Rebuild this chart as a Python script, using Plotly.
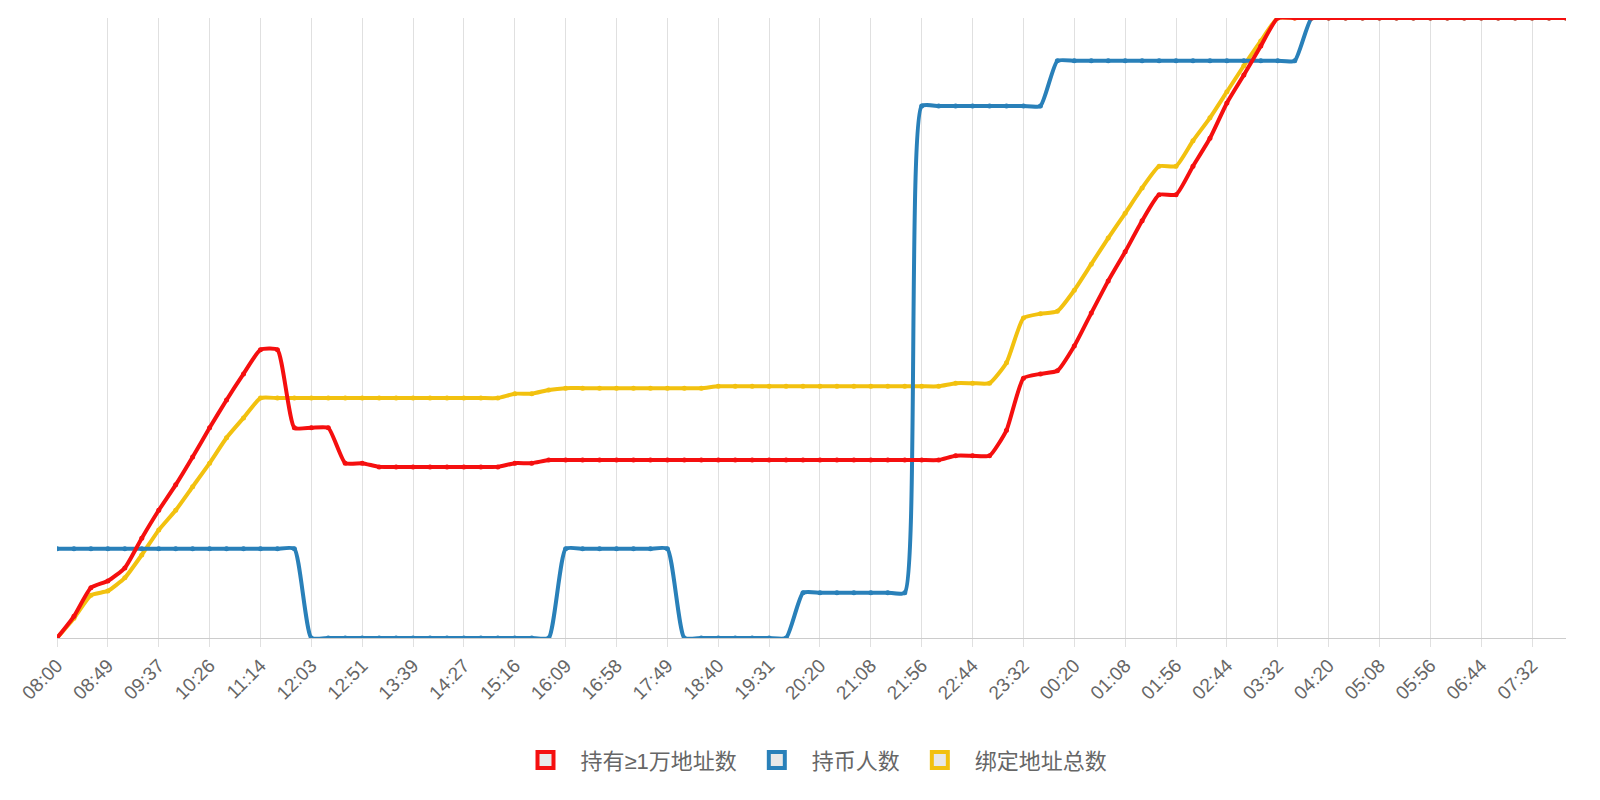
import plotly.graph_objects as go

tick_labels = ["08:00", "08:49", "09:37", "10:26", "11:14", "12:03", "12:51", "13:39", "14:27", "15:16",
               "16:09", "16:58", "17:49", "18:40", "19:31", "20:20", "21:08", "21:56", "22:44", "23:32",
               "00:20", "01:08", "01:56", "02:44", "03:32", "04:20", "05:08", "05:56", "06:44", "07:32"]

red = ([0, 3.5, 8.1, 9.2, 11.3, 16.1, 20.6, 24.7, 29.2, 33.9, 38.4, 42.6, 46.5, 46.5, 33.9, 33.9, 33.9, 28.2, 28.2]
       + [27.6] * 8 + [28.2, 28.2] + [28.7] * 24 + [29.4] * 3
       + [33.5, 41.9, 42.6, 43.1, 47.1, 52.4, 57.6, 62.3, 67.3, 71.5, 71.5, 76.1, 80.6, 86.3, 90.8, 95.5]
       + [100] * 18)
blue = [14.4] * 15 + [0] * 15 + [14.4] * 7 + [0] * 7 + [7.3] * 7 + [85.8] * 8 + [93.1] * 15 + [100] * 16
yellow = ([0, 3.2, 6.9, 7.6, 9.7, 13.4, 17.4, 20.6, 24.4, 28.2, 32.3, 35.5, 38.7]
          + [38.7] * 14 + [39.4, 39.4, 40.0] + [40.3] * 9 + [40.6] * 14 + [41.1] * 3
          + [44.4, 51.6, 52.3, 52.7, 56.1, 60.3, 64.5, 68.5, 72.6, 76.1, 76.1, 80.2, 83.9, 88.1, 92.3, 96.3]
          + [100] * 18)

series = [
    ("绑定地址总数", yellow, "#f2c10f", 3),
    ("持币人数", blue, "#2980b9", 2),
    ("持有≥1万地址数", red, "#f50f0f", 1),
]

x = list(range(len(red)))
fig = go.Figure()

for name, vals, color, rank in series:
    fig.add_trace(go.Scatter(
        x=x, y=vals, mode="lines+markers",
        line={'color': color, 'width': 4, 'shape': 'spline', 'smoothing': 0.5},
        marker={'color': color, 'size': 5},
        showlegend=False, hoverinfo='skip'
    ))
for name, vals, color, rank in series:
    fig.add_trace(go.Scatter(
        x=[None], y=[None], mode="markers", name=name, legendrank=rank,
        marker={'symbol': 'square', 'size': 24, 'color': '#e8e8e8', 'line': {'color': color, 'width': 4}}
    ))

fig.update_layout(
    width=1600, height=800,
    margin={'l': 43, 'r': 42, 't': 10, 'b': 170},
    plot_bgcolor='white', paper_bgcolor='white',
    font={'family': 'Liberation Sans, Arial', 'size': 19, 'color': '#666666'},
    legend={'orientation': 'h', 'x': 0.5, 'xanchor': 'center', 'y': -0.197, 'yanchor': 'middle',
            'itemwidth': 60,
            'font': {'family': 'Liberation Sans, Noto Sans CJK SC', 'size': 22, 'color': '#666666'}},
    xaxis={'range': [0, 89], 'tickvals': x[::3], 'ticktext': tick_labels, 'tickangle': -45,
           'showgrid': True, 'gridcolor': '#e0e0e0', 'gridwidth': 1, 'zeroline': False,
           'showline': True, 'linecolor': '#cccccc', 'ticks': 'outside', 'ticklen': 8,
           'tickcolor': '#e0e0e0'},
    yaxis={'range': [0, 100], 'showgrid': False, 'zeroline': False, 'showticklabels': False},
)

fig.write_html("out.html")
